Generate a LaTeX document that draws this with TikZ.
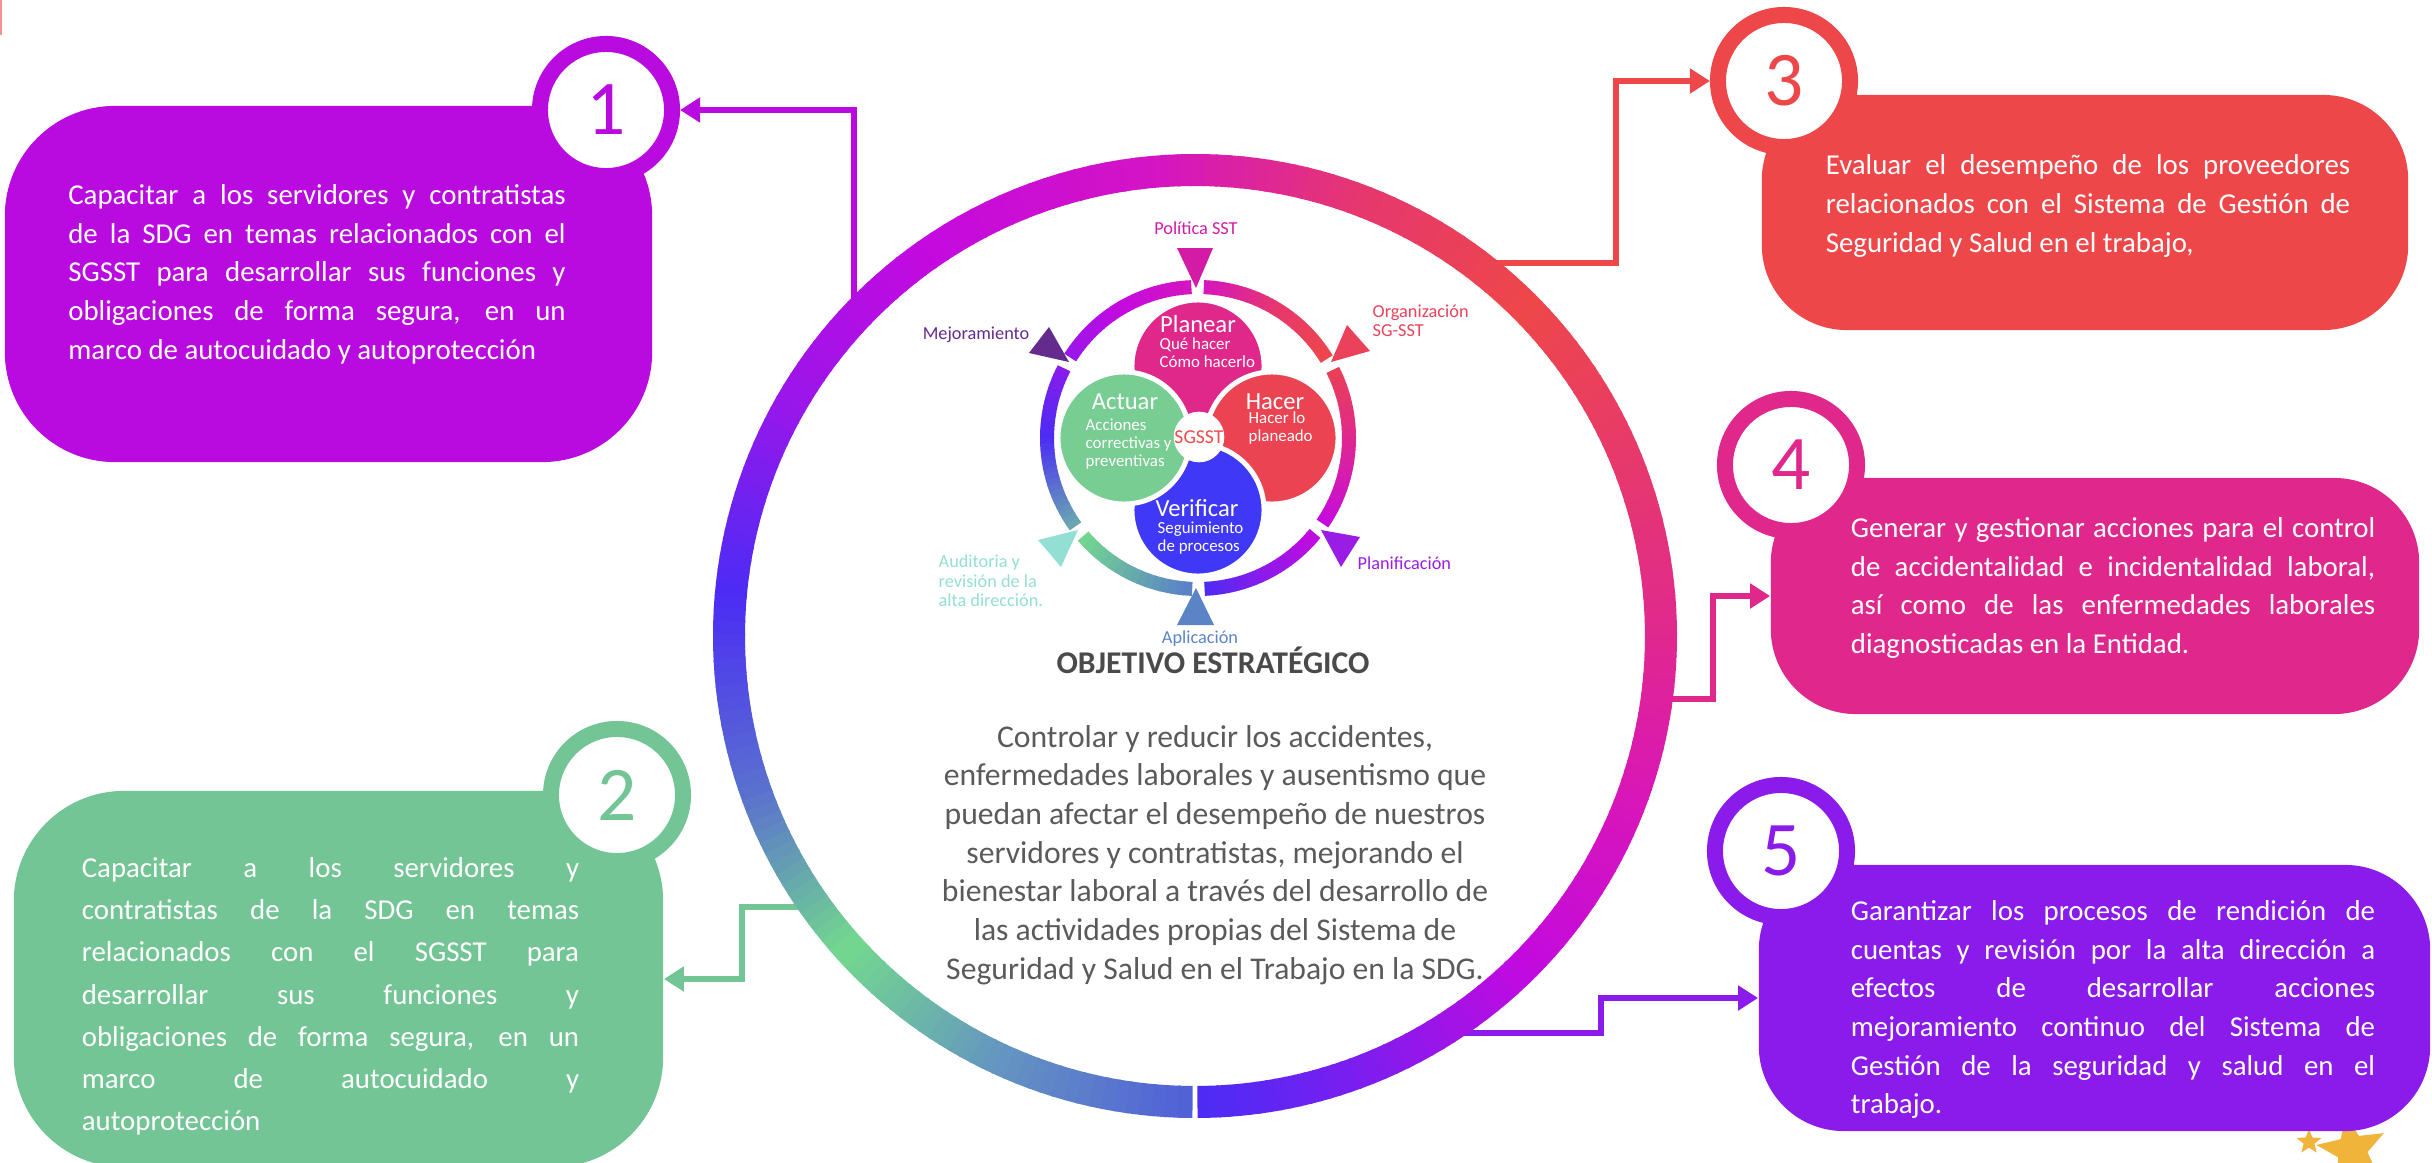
\documentclass[tikz,border=0pt]{standalone}
\usepackage{fontspec}
\setmainfont{Carlito}
\usepackage{xcolor}
\usepackage{tikz}
\usetikzlibrary{calc,arrows.meta,shapes.geometric,shadows}
\definecolor{purp}{HTML}{B90BDF}
\definecolor{mint}{HTML}{74C596}
\definecolor{coral}{HTML}{EE4749}
\definecolor{rose}{HTML}{E0288C}
\definecolor{violet}{HTML}{8A1BEB}
\definecolor{gold}{HTML}{F0B43A}
\definecolor{ink}{HTML}{4A4A4A}
\definecolor{inkl}{HTML}{5A5A5A}
% ring colours
\definecolor{bigA}{HTML}{4B2CF5}
\definecolor{bigB}{HTML}{7A1EF0}
\definecolor{bigC}{HTML}{C20ADF}
\definecolor{bigD}{HTML}{D916B8}
\definecolor{bigE}{HTML}{E0288F}
\definecolor{bigF}{HTML}{E83B68}
\definecolor{bigG}{HTML}{EE4749}
\definecolor{bigH}{HTML}{E63670}
\definecolor{bigI}{HTML}{D414C4}
\definecolor{bigJ}{HTML}{C40ADF}
\definecolor{bigK}{HTML}{9A16EA}
\definecolor{bigM}{HTML}{5A72CE}
\definecolor{bigN}{HTML}{73D98E}
\definecolor{bigO}{HTML}{6596C0}
\definecolor{bigP}{HTML}{5060D8}
\definecolor{smA}{HTML}{D616BE}
\definecolor{smF}{HTML}{6AAAB0}
\definecolor{smH}{HTML}{5A7ECA}
\definecolor{smK}{HTML}{EA4055}
% PHVA colours
\definecolor{planear}{HTML}{E0288A}
\definecolor{hacer}{HTML}{EB4351}
\definecolor{verificar}{HTML}{3F38F6}
\definecolor{actuar}{HTML}{78CD93}
\definecolor{tripol}{HTML}{D31BA5}
\definecolor{trimej}{HTML}{652A8D}
\definecolor{triorg}{HTML}{E9425A}
\definecolor{triplan}{HTML}{9A1DE6}
\definecolor{triapl}{HTML}{5B84C6}
\definecolor{triaud}{HTML}{93DFD3}
\definecolor{sgsst}{HTML}{F04A4A}
\tikzset{
  box/.style={rounded corners=0.85cm, inner sep=0pt},
  boxtext/.style={text=white, font=\fontsize{8.2}{11}\selectfont, text width=4.97cm, align=justify, inner sep=0pt},
  num/.style={circle, fill=white, line width=0.16cm, minimum size=1.32cm, inner sep=0pt,
    font=\fontsize{22}{22}\selectfont,
    drop shadow={shadow xshift=-0.05cm, shadow yshift=-0.05cm, opacity=0.3}},
  link/.style={line width=0.06cm, -{Triangle[length=0.2cm,width=0.24cm]}},
  petal/.style={circle, draw=white, line width=0.05cm, minimum size=1.32cm, inner sep=0pt},
  ptitle/.style={text=white, font=\fontsize{7}{7}\selectfont, inner sep=0pt},
  psub/.style={text=white, font=\fontsize{4.8}{5.1}\selectfont, align=left, inner sep=0pt},
  plab/.style={font=\fontsize{5.2}{5.5}\selectfont, align=left, inner sep=0pt},
  star5/.style={star, star points=5, star point ratio=2.3, fill=gold, inner sep=0pt}
}
\newcommand\jl[1]{{\spaceskip=0pt\xspaceskip=0pt\makebox[\hsize][s]{#1}}}
% one gradient arc: centre, radius, width, from, to, colour from, colour to
\newcommand\ringarc[7]{%
  \foreach \k in {1,...,16}{
    \pgfmathsetmacro\angA{(#4)+((#5)-(#4))*(\k-1)/16}
    \pgfmathsetmacro\angB{(#4)+((#5)-(#4))*\k/16+0.3}
    \pgfmathtruncatemacro\segmix{100-100*(\k-0.5)/16}
    \draw[line width=#3, draw=#6!\segmix!#7] ($(#1)+(\angA:#2)$) arc[start angle=\angA, end angle=\angB, radius=#2];
  }%
}

\begin{document}
\begin{tikzpicture}[x=0.01cm, y=0.01cm]
  \useasboundingbox (0,0) rectangle (2432,1162);
  \coordinate (big) at (1195,526);
  \coordinate (hub) at (1198,724);

  \fill[coral, opacity=0.6] (0,1127) rectangle (2,1162);
  \node[star5, minimum size=0.72cm, rotate=10] (bigstar) at (2352,12) {};
  \node[star5, minimum size=0.26cm] (smallstar) at (2309,20) {};

  % boxes
  \node[box, fill=purp, rounded corners=1.1cm, minimum width=6.47cm, minimum height=3.56cm] (box1) at (328.5,878) {};
  \node[box, fill=mint, rounded corners=1.1cm, minimum width=6.49cm, minimum height=3.76cm] (box2) at (338.5,183) {};
  \node[box, fill=coral, minimum width=6.46cm, minimum height=2.35cm] (box3) at (2085,949.5) {};
  \node[box, fill=rose, minimum width=6.48cm, minimum height=2.36cm] (box4) at (2095,566) {};
  \node[box, fill=violet, minimum width=6.71cm, minimum height=2.66cm] (box5) at (2094.5,164) {};

  \node[boxtext] (txt1) at (317,888) {\jl{Capacitar a los servidores y contratistas}\\
    \jl{de la SDG en temas relacionados con el}\\
    \jl{SGSST para desarrollar sus funciones y}\\
    \jl{obligaciones de forma segura, en un}\\
    marco de autocuidado y autoprotección};
  \node[boxtext, font=\fontsize{8.2}{12}\selectfont] (txt2) at (330.5,165.5) {\jl{Capacitar a los servidores y}\\
    \jl{contratistas de la SDG en temas}\\
    \jl{relacionados con el SGSST para}\\
    \jl{desarrollar sus funciones y}\\
    \jl{obligaciones de forma segura, en un}\\
    \jl{marco de autocuidado y}\\
    autoprotección};
  \node[boxtext, text width=5.24cm] (txt3) at (2088,956) {\jl{Evaluar el desempeño de los proveedores}\\
    \jl{relacionados con el Sistema de Gestión de}\\
    Seguridad y Salud en el trabajo,};
  \node[boxtext, text width=5.24cm] (txt4) at (2113,574) {\jl{Generar y gestionar acciones para el control}\\
    \jl{de accidentalidad e incidentalidad laboral,}\\
    \jl{así como de las enfermedades laborales}\\
    diagnosticadas en la Entidad.};
  \node[boxtext, text width=5.24cm] (txt5) at (2113,152.5) {\jl{Garantizar los procesos de rendición de}\\
    \jl{cuentas y revisión por la alta dirección a}\\
    \jl{efectos de desarrollar acciones}\\
    \jl{mejoramiento continuo del Sistema de}\\
    \jl{Gestión de la seguridad y salud en el}\\
    trabajo.};

  \node[num, draw=purp, text=purp] (num1) at (606,1052) {1};
  \node[num, draw=mint, text=mint] (num2) at (617,367) {2};
  \node[num, draw=coral, text=coral] (num3) at (1784,1081) {3};
  \node[num, draw=rose, text=rose] (num4) at (1791,697) {4};
  \node[num, draw=violet, text=violet] (num5) at (1781,311) {5};

  % connectors
  \coordinate (r1) at ($(big)+(137:466)$);
  \coordinate (r2) at ($(big)+(215.6:466)$);
  \coordinate (r3) at ($(big)+(53.2:466)$);
  \coordinate (r4) at ($(big)+(-7.8:466)$);
  \coordinate (r5) at ($(big)+(-58.4:466)$);
  \draw[link, draw=purp] (r1) |- (num1.east);
  \draw[link, draw=mint] (r2) -| ([xshift=0.78cm]box2.east) -- (box2.east);
  \draw[link, draw=coral] (r3) -| ([xshift=-0.94cm]num3.west) -- (num3.west);
  \draw[link, draw=rose] (r4) -| ([xshift=-0.57cm]box4.west) -- (box4.west);
  \draw[link, draw=violet] (r5) -| ([xshift=-1.57cm]box5.west) -- (box5.west);

  % big ring
  \foreach \fa/\fb/\ca/\cb in {-89.7/-70/bigA/bigB, -70/-45/bigB/bigC, -45/-20/bigC/bigD,
      -20/0/bigD/bigE, 0/25/bigE/bigF, 25/45/bigF/bigG, 45/70/bigG/bigH, 70/95/bigH/bigI,
      95/125/bigI/bigJ, 125/150/bigJ/bigK, 150/175/bigK/bigA, 175/200/bigA/bigM,
      200/222/bigM/bigN, 222/245/bigN/bigO, 245/269.4/bigO/bigP}
    {\ringarc{big}{466}{0.32cm}{\fa}{\fb}{\ca}{\cb}}

  % PHVA ring
  \foreach \fa/\fb/\ca/\cb in {92.5/120/smA/bigJ, 120/147.5/bigJ/bigK, 152.5/180/violet/bigA,
      180/215.5/bigA/smF, 220.5/267.5/bigN/smH, -87.5/-65/bigA/violet, -65/-39.5/violet/bigJ,
      -34.5/0/bigJ/bigE, 0/26.5/bigE/smK, 31.5/60/bigG/bigH, 60/87.5/bigH/smA}
    {\ringarc{hub}{151}{0.14cm}{\fa}{\fb}{\ca}{\cb}}

  \fill[tripol] (1177,914) -- (1213,914) -- (1196,874) -- cycle;
  \fill[trimej] (1049,835) -- (1029,809) -- (1069,800) -- cycle;
  \fill[triorg] (1347,837) -- (1370,811) -- (1331,800) -- cycle;
  \fill[triplan] (1321,632) -- (1360,625) -- (1341,595) -- cycle;
  \fill[triapl] (1196,574) -- (1177,537) -- (1214,537) -- cycle;
  \fill[triaud] (1078,632) -- (1038,622) -- (1061,595) -- cycle;

  \node[plab, text=tripol] (lpol) at (1196,934) {Política SST};
  \node[plab, text=trimej, anchor=east] (lmej) at (1030,827) {Mejoramiento};
  \node[plab, text=triorg, anchor=west] (lorg) at (1372,841.5) {Organización\\SG-SST};
  \node[plab, text=triplan, anchor=west] (lplan) at (1357,599) {Planificación};
  \node[plab, text=triapl] (lapl) at (1200,523) {Aplicación};
  \node[plab, text=triaud, anchor=west] (laud) at (938,581) {Auditoria y\\revisión de la\\alta dirección.};

  % petals
  \node[petal, fill=planear] (pplan) at ($(hub)+(0,72)$) {};
  \node[petal, fill=hacer] (phac) at ($(hub)+(74,0)$) {};
  \node[petal, fill=verificar] (pver) at ($(hub)+(0,-72)$) {};
  \node[petal, fill=actuar] (pact) at ($(hub)+(-74,0)$) {};
  \node[circle, fill=white, minimum size=0.5cm, inner sep=0pt, text=sgsst, font=\fontsize{5.6}{6}\selectfont] (core) at (1199,725) {SGSST};

  \node[ptitle] (tplan) at (1198,838) {Planear};
  \node[psub, anchor=west] (splan) at (1159,809) {Qué hacer\\Cómo hacerlo};
  \node[ptitle] (thac) at (1275,760) {Hacer};
  \node[psub, anchor=west] (shac) at (1248,734) {Hacer lo\\planeado};
  \node[ptitle] (tact) at (1125,760) {Actuar};
  \node[psub, anchor=west] (sact) at (1085,718) {Acciones\\correctivas y\\preventivas};
  \node[ptitle] (tver) at (1197,654) {Verificar};
  \node[psub, anchor=west] (sver) at (1157,624) {Seguimiento\\de procesos};

  \node[font=\bfseries\fontsize{9}{11}\selectfont, text=ink] (goal) at (1213,502) {OBJETIVO ESTRATÉGICO};
  \node[font=\fontsize{9}{11}\selectfont, text=inkl, align=center] (goaltxt) at (1215,307) {Controlar y reducir los accidentes,\\
    enfermedades laborales y ausentismo que\\
    puedan afectar el desempeño de nuestros\\
    servidores y contratistas, mejorando el\\
    bienestar laboral a través del desarrollo de\\
    las actividades propias del Sistema de\\
    Seguridad y Salud en el Trabajo en la SDG.};
\end{tikzpicture}
\end{document}
